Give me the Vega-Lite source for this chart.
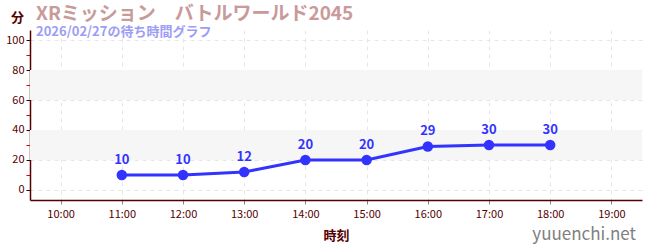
{
  "$schema": "https://vega.github.io/schema/vega-lite/v6.json",
  "autosize": "none",
  "width": 612,
  "height": 170,
  "padding": {"left": 30, "top": 30, "right": 8, "bottom": 50},
  "background": "white",
  "config": {
    "view": {"stroke": null},
    "font": "Noto Sans CJK JP"
  },
  "title": {
    "text": "XRミッション　バトルワールド2045",
    "subtitle": "2026/02/27の待ち時間グラフ",
    "anchor": "start",
    "frame": "group",
    "orient": "top",
    "offset": -28,
    "dx": 6,
    "font": "Noto Sans CJK JP",
    "fontSize": 19,
    "fontWeight": "bold",
    "color": "#c99a9a",
    "subtitleFont": "Noto Sans CJK JP",
    "subtitleFontSize": 13,
    "subtitleFontWeight": "bold",
    "subtitleColor": "#9d9df5",
    "subtitlePadding": 2
  },
  "datasets": {
    "waits": [
      {"hour": 11, "wait": 10},
      {"hour": 12, "wait": 10},
      {"hour": 13, "wait": 12},
      {"hour": 14, "wait": 20},
      {"hour": 15, "wait": 20},
      {"hour": 16, "wait": 29},
      {"hour": 17, "wait": 30},
      {"hour": 18, "wait": 30}
    ],
    "bands": [
      {"lo": 20, "hi": 40},
      {"lo": 60, "hi": 80}
    ],
    "mark": [
      {"label": "yuuenchi.net"}
    ]
  },
  "layer": [
    {
      "data": {"name": "bands"},
      "mark": {"type": "rect", "color": "#f6f6f6"},
      "encoding": {
        "x": {"datum": 9.5, "type": "quantitative"},
        "x2": {"datum": 19.5},
        "y": {"field": "lo", "type": "quantitative"},
        "y2": {"field": "hi"}
      }
    },
    {
      "data": {"name": "waits"},
      "mark": {"type": "line", "color": "#3333ff", "strokeWidth": 3},
      "encoding": {
        "x": {
          "field": "hour",
          "type": "quantitative",
          "scale": {"domain": [9.5, 19.5], "nice": false, "zero": false},
          "axis": {
            "values": [10, 11, 12, 13, 14, 15, 16, 17, 18, 19],
            "tickCount": 20,
            "labelExpr": "datum.value + ':00'",
            "labelOverlap": false,
            "title": "時刻",
            "titleFont": "Noto Sans CJK JP",
            "titleFontSize": 13,
            "titleFontWeight": "bold",
            "titleColor": "#550000",
            "titlePadding": 10,
            "labelFont": "Noto Sans CJK JP",
            "labelFontSize": 11,
            "labelColor": "#550000",
            "labelPadding": 4,
            "domainColor": "#550000",
            "domainWidth": 1.5,
            "tickColor": "#888888",
            "tickSize": 4,
            "grid": true,
            "gridColor": "#e6e6e6",
            "gridDash": [4, 4],
            "zindex": 0
          }
        },
        "y": {
          "field": "wait",
          "type": "quantitative",
          "scale": {"domain": [-6.67, 106.67], "nice": false, "zero": false},
          "axis": {
            "values": [0, 10, 20, 30, 40, 50, 60, 70, 80, 90, 100],
            "tickCount": 20,
            "labelExpr": "datum.value % 20 == 0 ? datum.label : ''",
            "labelOverlap": false,
            "title": "分",
            "titleAngle": 0,
            "titleX": -13,
            "titleY": -13,
            "titleAlign": "center",
            "titleBaseline": "middle",
            "titleFont": "Noto Sans CJK JP",
            "titleFontSize": 13,
            "titleFontWeight": "bold",
            "titleColor": "#550000",
            "labelFont": "Noto Sans CJK JP",
            "labelFontSize": 11,
            "labelColor": "#550000",
            "labelPadding": 2,
            "domainColor": "#550000",
            "domainWidth": 1.5,
            "tickSize": 4,
            "tickColor": {"condition": {"test": "datum.value % 20 != 0", "value": "#dd0000"}, "value": "#330000"},
            "grid": true,
            "gridColor": "#e6e6e6",
            "gridDash": [4, 4],
            "gridOpacity": {"condition": {"test": "datum.value % 20 != 0", "value": 0}, "value": 1}
          }
        }
      }
    },
    {
      "data": {"name": "waits"},
      "mark": {"type": "circle", "color": "#3333ff", "opacity": 1, "size": 110},
      "encoding": {
        "x": {"field": "hour", "type": "quantitative"},
        "y": {"field": "wait", "type": "quantitative"}
      }
    },
    {
      "data": {"name": "waits"},
      "mark": {"type": "text", "color": "#3333ff", "fontSize": 13, "fontWeight": "bold", "dy": -15, "font": "Noto Sans CJK JP"},
      "encoding": {
        "x": {"field": "hour", "type": "quantitative"},
        "y": {"field": "wait", "type": "quantitative"},
        "text": {"field": "wait", "type": "quantitative"}
      }
    },
    {
      "data": {"name": "mark"},
      "mark": {"type": "text", "color": "#808080", "fontSize": 17, "align": "right", "baseline": "middle", "font": "Noto Sans CJK JP", "dx": -6},
      "encoding": {
        "x": {"datum": 19.5, "type": "quantitative"},
        "y": {"datum": -30, "type": "quantitative"},
        "text": {"field": "label", "type": "nominal"}
      }
    }
  ]
}
